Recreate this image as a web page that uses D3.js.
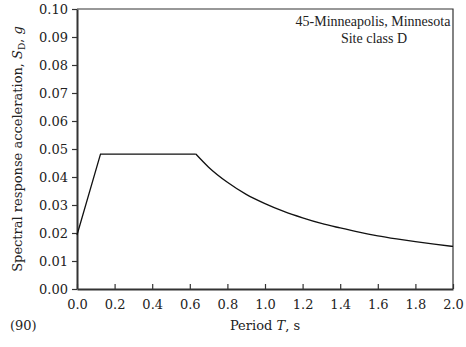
<!DOCTYPE html>
<html><head><meta charset="utf-8">
<script src="https://cdn.jsdelivr.net/npm/d3@7"></script>
<style>body{margin:0;background:#fff}svg{display:block}text{font-family:"DejaVu Serif","Liberation Serif",serif;fill:#222}</style>
</head><body>
<svg id="c" width="466" height="347"></svg>
<script>
// Data
const rampPeriods = [0.0, 0.125, 0.632];
const rampValues = [0.0193, 0.0482, 0.0482];
const decayPeriods = [0.632, 0.7, 0.8, 0.9, 1.0, 1.1, 1.2, 1.3, 1.4, 1.5, 1.6, 1.7, 1.8, 1.9, 2.0];
const decayValues = [0.0482, 0.0435, 0.0381, 0.0338, 0.0305, 0.0277, 0.0254, 0.0234, 0.0218, 0.0203, 0.0190, 0.0179, 0.0169, 0.0160, 0.0152];
const xTicks = [0.0, 0.2, 0.4, 0.6, 0.8, 1.0, 1.2, 1.4, 1.6, 1.8, 2.0];
const yTicks = [0.00, 0.01, 0.02, 0.03, 0.04, 0.05, 0.06, 0.07, 0.08, 0.09, 0.10];

const W = 466, H = 347, m = {l:77, r:13, t:9, b:58};
const svg = d3.select("#c");
const x = d3.scaleLinear().domain([0, 2]).range([m.l, W - m.r]);
const y = d3.scaleLinear().domain([0, 0.1]).range([H - m.b, m.t]);
const ax = "#333";

// frame top/right
svg.append("path").attr("d", `M${x(0)},${y(0.1)}H${x(2)}V${y(0)}`).attr("fill","none").attr("stroke",ax).attr("stroke-width",1.2);

const xa = svg.append("g").attr("transform", `translate(0,${y(0)})`)
  .call(d3.axisBottom(x).tickValues(xTicks).tickFormat(d3.format(".1f")).tickSizeInner(-5).tickSizeOuter(0).tickPadding(11));
const ya = svg.append("g").attr("transform", `translate(${x(0)},0)`)
  .call(d3.axisLeft(y).tickValues(yTicks).tickFormat(d3.format(".2f")).tickSizeInner(5).tickSizeOuter(0).tickPadding(4));
[xa, ya].forEach(g => {
  g.select(".domain").attr("stroke", ax).attr("stroke-width", 2);
  g.selectAll(".tick line").attr("stroke", ax).attr("stroke-width", 1.2);
  g.selectAll(".tick text").attr("font-size", 13).attr("fill", "#222").style("font-family", '"DejaVu Serif",serif');
});

const ramp = rampPeriods.map((t, i) => [t, rampValues[i]]);
const decay = decayPeriods.map((t, i) => [t, decayValues[i]]);
svg.append("path").attr("d", d3.line().x(d => x(d[0])).y(d => y(d[1]))(ramp))
  .attr("fill","none").attr("stroke","#111").attr("stroke-width",1.3);
svg.append("path").attr("d", d3.line().curve(d3.curveMonotoneX).x(d => x(d[0])).y(d => y(d[1]))(decay))
  .attr("fill","none").attr("stroke","#111").attr("stroke-width",1.3);

// annotation
svg.append("text").attr("x", 373).attr("y", 26).attr("text-anchor","middle").attr("font-size",14)
  .style("font-family",'"Liberation Serif",serif').text("45-Minneapolis, Minnesota");
svg.append("text").attr("x", 374).attr("y", 43).attr("text-anchor","middle").attr("font-size",14)
  .style("font-family",'"Liberation Serif",serif').text("Site class D");

// axis titles
const xt = svg.append("text").attr("x", 265).attr("y", 330).attr("text-anchor","middle").attr("font-size",13);
xt.append("tspan").text("Period ");
xt.append("tspan").attr("font-style","italic").text("T");
xt.append("tspan").text(", s");

const yt = svg.append("text").attr("transform", `translate(22,${(y(0)+y(0.1))/2}) rotate(-90)`).attr("text-anchor","middle").attr("font-size",13);
yt.append("tspan").text("Spectral response acceleration, ");
yt.append("tspan").attr("font-style","italic").text("S");
yt.append("tspan").attr("font-size",9).attr("dy",3).text("D");
yt.append("tspan").attr("dy",-3).text(", ");
yt.append("tspan").attr("font-style","italic").text("g");

svg.append("text").attr("x", 10).attr("y", 330).attr("font-size",13).text("(90)");
</script>
</body></html>
